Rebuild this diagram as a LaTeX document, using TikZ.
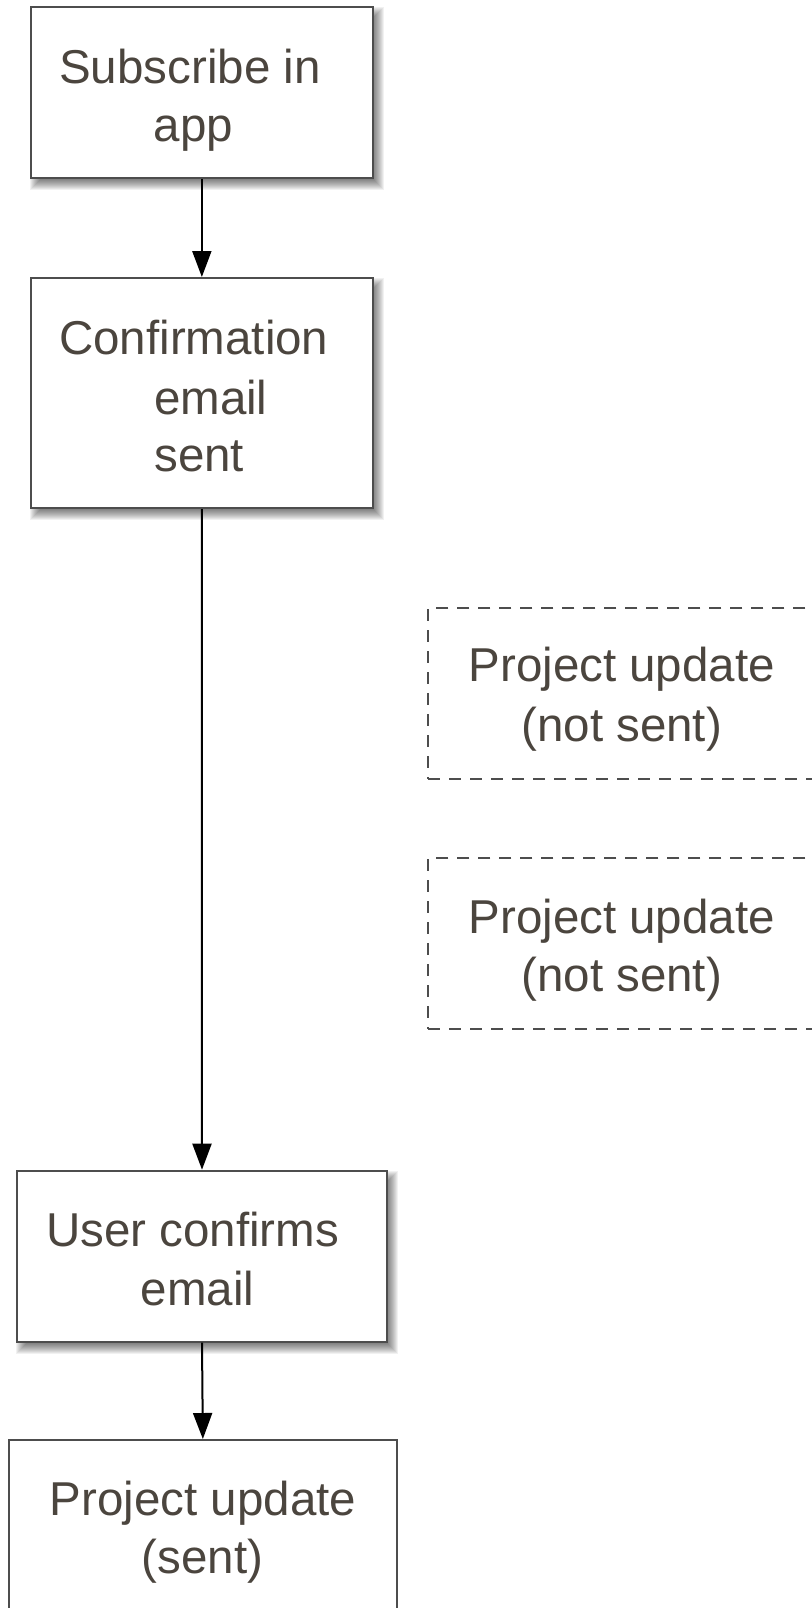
\documentclass[tikz,border=0pt]{standalone}
\usepackage{fontspec}
\setmainfont{Liberation Sans}
\usetikzlibrary{arrows.meta,backgrounds}
\definecolor{txt}{RGB}{75,69,62}
\definecolor{edge}{RGB}{77,77,77}
\tikzset{
  box/.style={draw=edge, line width=2pt, fill=white, rectangle, inner sep=0pt},
  dbox/.style={draw=edge, line width=2pt, dash pattern=on 12pt off 9pt, rectangle, inner sep=0pt},
  lbl/.style={anchor=base, inner sep=0pt, text=txt, font=\fontsize{47.5}{59}\selectfont},
  arr/.style={draw=black, line width=2pt, -{Triangle[length=26pt,width=19pt]}},
}
\newcommand\shadowof[1]{%
  \foreach \s in {-5,...,5}{%
    \fill[black,opacity=0.055] ([shift={(5-\s,6-\s)}]#1.north west) rectangle ([shift={(5+\s,6+\s)}]#1.south east);
  }%
}
\begin{document}
\begin{tikzpicture}[x=1pt,y=-1pt]
\useasboundingbox (0,0) rectangle (811,1608);
% boxes
\node[box, minimum width=341.7pt, minimum height=171pt] (b1) at (201.85,92.8) {};
\node[box, minimum width=341.7pt, minimum height=230pt] (b2) at (201.85,393) {};
\node[dbox, minimum width=386.7pt, minimum height=170.7pt] (d1) at (621.7,693.7) {};
\node[dbox, minimum width=386.7pt, minimum height=170.7pt] (d2) at (621.7,943.7) {};
\node[box, minimum width=369.4pt, minimum height=171pt] (b3) at (202,1256.2) {};
\node[box, minimum width=387.7pt, minimum height=171pt] (b4) at (202.85,1525.5) {};
% shadows
\begin{scope}[on background layer]
  \fill[white] (0,0) rectangle (811,1608);
  \shadowof{b1}
  \shadowof{b2}
  \shadowof{b3}
\end{scope}
% texts
\node[lbl] (t1a) at (190,83.3) {Subscribe in};
\node[lbl] (t1b) at (193.3,141.7) {app};
\node[lbl] (t2a) at (193.8,354) {Confirmation};
\node[lbl] (t2b) at (210.8,414) {email};
\node[lbl] (t2c) at (199.2,471.7) {sent};
\node[lbl] (t3a) at (621.7,681.7) {Project update};
\node[lbl] (t3b) at (621.7,741.7) {(not sent)};
\node[lbl] (t4a) at (621.7,933.3) {Project update};
\node[lbl] (t4b) at (621.7,991.7) {(not sent)};
\node[lbl] (t5a) at (192.5,1246.7) {User confirms};
\node[lbl] (t5b) at (197.5,1305) {email};
\node[lbl] (t6a) at (203,1515) {Project update};
\node[lbl] (t6b) at (202.5,1573.3) {(sent)};
% connectors
\draw[arr] (b1.south) -- (b2.north);
\draw[arr] (b2.south) -- (b3.north);
\draw[arr] (b3.south) -- (b4.north);
\end{tikzpicture}
\end{document}
